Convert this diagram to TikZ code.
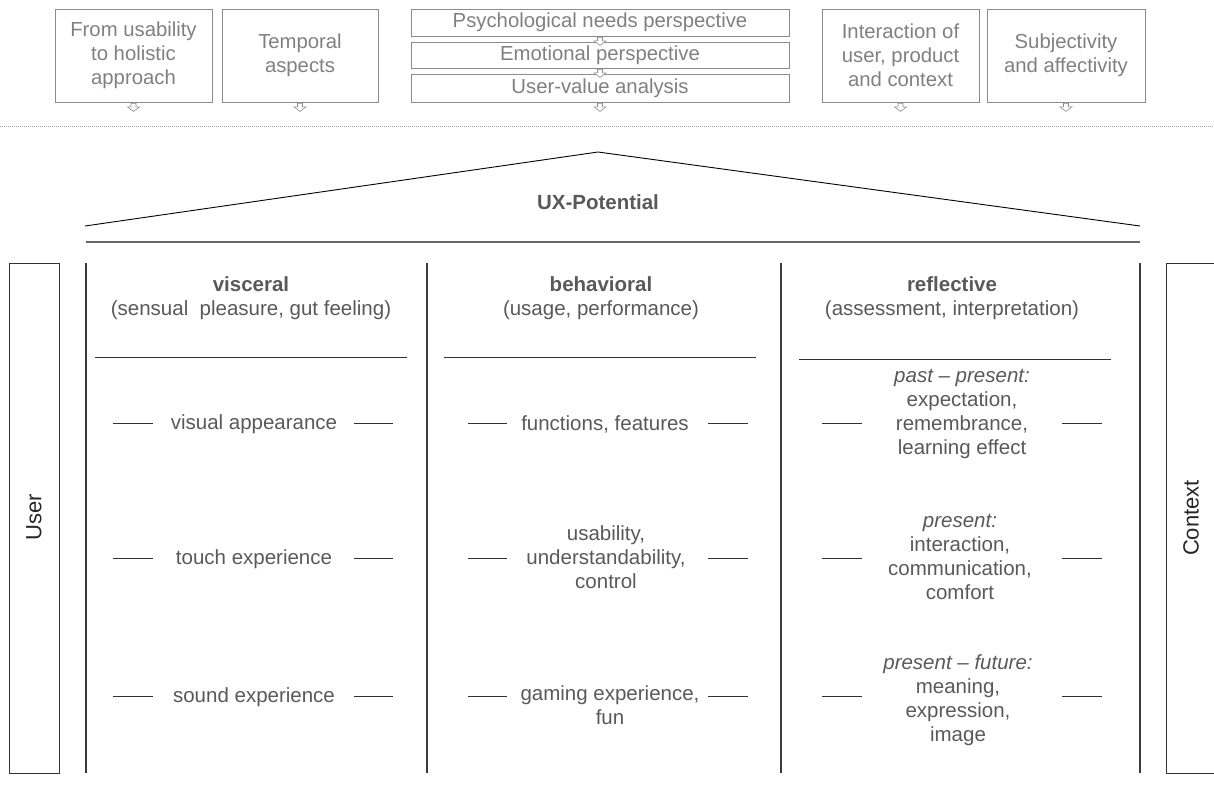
\documentclass[tikz,border=0pt]{standalone}
\usepackage{fontspec}
\setmainfont{Liberation Sans}
\definecolor{boxgray}{HTML}{8C8C8C}
\definecolor{toptext}{HTML}{808080}
\definecolor{bodytext}{HTML}{595959}
\definecolor{linegray}{HTML}{3A3A3A}
\begin{document}
\begin{tikzpicture}[x=1pt,y=-1pt,
  topbox/.style={draw=boxgray, line width=0.8pt, text=toptext, inner sep=0pt, align=center,
    font=\fontsize{20.3}{24}\selectfont},
  bodytxt/.style={text=bodytext, inner sep=0pt, align=center, font=\fontsize{20.5}{24}\selectfont},
  headtxt/.style={text=bodytext, inner sep=0pt, align=center, font=\fontsize{20.5}{24}\selectfont},
  sidetxt/.style={text=black!85, inner sep=0pt, rotate=90, font=\fontsize{22}{26}\selectfont},
  colline/.style={draw=linegray, line width=1.1pt},
  dashline/.style={draw=black!80, line width=0.9pt},
  hollowarrow/.pic={\draw[boxgray, line width=0.6pt, fill=white]
     (-2.5,0) -- (2.5,0) -- (2.5,3.5) -- (6,3.5) -- (0,8) -- (-6,3.5) -- (-2.5,3.5) -- cycle;}
]
\useasboundingbox (0,0) rectangle (1214,787);

% ---- top boxes
\node[topbox, minimum width=157pt, minimum height=93pt] (b1) at (133.5,55.5) {From usability\\to holistic\\approach};
\node[topbox, minimum width=156pt, minimum height=93pt] (b2) at (300,55.5) {Temporal\\aspects};
\node[topbox, minimum width=378pt, minimum height=27pt] (m1) at (600,22.5) {Psychological needs perspective};
\node[topbox, minimum width=378pt, minimum height=26pt] (m2) at (600,55) {Emotional perspective};
\node[topbox, minimum width=378pt, minimum height=28pt] (m3) at (600,88) {User-value analysis};
\node[topbox, minimum width=157pt, minimum height=93pt] (b4) at (900.5,55.5) {Interaction of\\user, product\\and context};
\node[topbox, minimum width=158pt, minimum height=93pt] (b5) at (1066,55.5) {Subjectivity\\and affectivity};

\pic at ([yshift=-1pt]b1.south) {hollowarrow};
\pic at ([yshift=-1pt]b2.south) {hollowarrow};
\pic at ([yshift=-1pt]m1.south) {hollowarrow};
\pic at ([yshift=-1pt]m2.south) {hollowarrow};
\pic at ([yshift=-1pt]m3.south) {hollowarrow};
\pic at ([yshift=-1pt]b4.south) {hollowarrow};
\pic at ([yshift=-1pt]b5.south) {hollowarrow};

% dotted separator
\coordinate (dl) at (0,126);
\coordinate (dr) at (1214,126);
\draw[boxgray!80, line width=0.8pt, dash pattern=on 1pt off 1pt] (dl) -- (dr);

% ---- roof
\coordinate (apex) at (598,152);
\coordinate (rl) at (85,226);
\coordinate (rr) at (1140,226);
\draw[black, line width=0.9pt] (rl) -- (apex) -- (rr);
\node[headtxt, font=\fontsize{20.5}{24}\selectfont\bfseries] (ux) at (598,202) {UX-Potential};
\coordinate (bl) at (86,242);
\coordinate (br) at (1140,242);
\draw[draw=black!60, line width=1.4pt] (bl) -- (br);

% ---- side boxes
\node[draw=black!80, line width=0.9pt, minimum width=50pt, minimum height=510pt, inner sep=0pt] (user) at (34,518) {};
\node[sidetxt] (usertxt) at (34,517) {User};
\node[draw=black!80, line width=0.9pt, minimum width=50pt, minimum height=510pt, inner sep=0pt] (ctx) at (1191,518) {};
\node[sidetxt] (ctxtxt) at (1191,518) {Context};

% ---- column lines
\foreach \cx/\nm in {86/c0, 427/c1, 781/c2, 1140/c3}{
  \coordinate (\nm t) at (\cx,263);
  \coordinate (\nm b) at (\cx,773);
  \draw[colline] (\nm t) -- (\nm b);
}

% ---- headers
\node[headtxt] (hv) at (251,298) {\textbf{visceral}\\(sensual\ \ pleasure, gut feeling)};
\node[headtxt] (hb) at (601,298) {\textbf{behavioral}\\(usage, performance)};
\node[headtxt] (hr) at (952,298) {\textbf{reflective}\\(assessment, interpretation)};

\coordinate (hv1) at (95,357);  \coordinate (hv2) at (407,357);
\coordinate (hb1) at (444,357); \coordinate (hb2) at (756,357);
\coordinate (hr1) at (799,359); \coordinate (hr2) at (1111,359);
\draw[dashline] (hv1) -- (hv2);
\draw[dashline] (hb1) -- (hb2);
\draw[dashline] (hr1) -- (hr2);

% ---- visceral items
\node[bodytxt] (v1) at (254,424) {visual appearance};
\node[bodytxt] (v2) at (254,559) {touch experience};
\node[bodytxt] (v3) at (254,697) {sound experience};

% ---- behavioral items
\node[bodytxt] (be1) at (605,424) {functions, features};
\node[bodytxt] (be2) at (606,557) {usability,\\understandability,\\control};
\node[bodytxt] (be3) at (610,705) {gaming experience,\\fun};

% ---- reflective items
\node[bodytxt] (r1) at (962,414) {\textit{past -- present:}\\expectation,\\remembrance,\\learning effect};
\node[bodytxt] (r2) at (960,557) {\textit{present:}\\interaction,\\communication,\\comfort};
\node[bodytxt] (r3) at (958,700) {\textit{present -- future:}\\meaning,\\expression,\\image};

% ---- side dashes
\foreach \ya in {423, 558, 696}{
  \draw[dashline] (113,\ya) -- (153,\ya);
  \draw[dashline] (354,\ya) -- (393,\ya);
  \draw[dashline] (468,\ya) -- (507,\ya);
  \draw[dashline] (708,\ya) -- (748,\ya);
  \draw[dashline] (822,\ya) -- (862,\ya);
  \draw[dashline] (1062,\ya) -- (1102,\ya);
}
\end{tikzpicture}
\end{document}
